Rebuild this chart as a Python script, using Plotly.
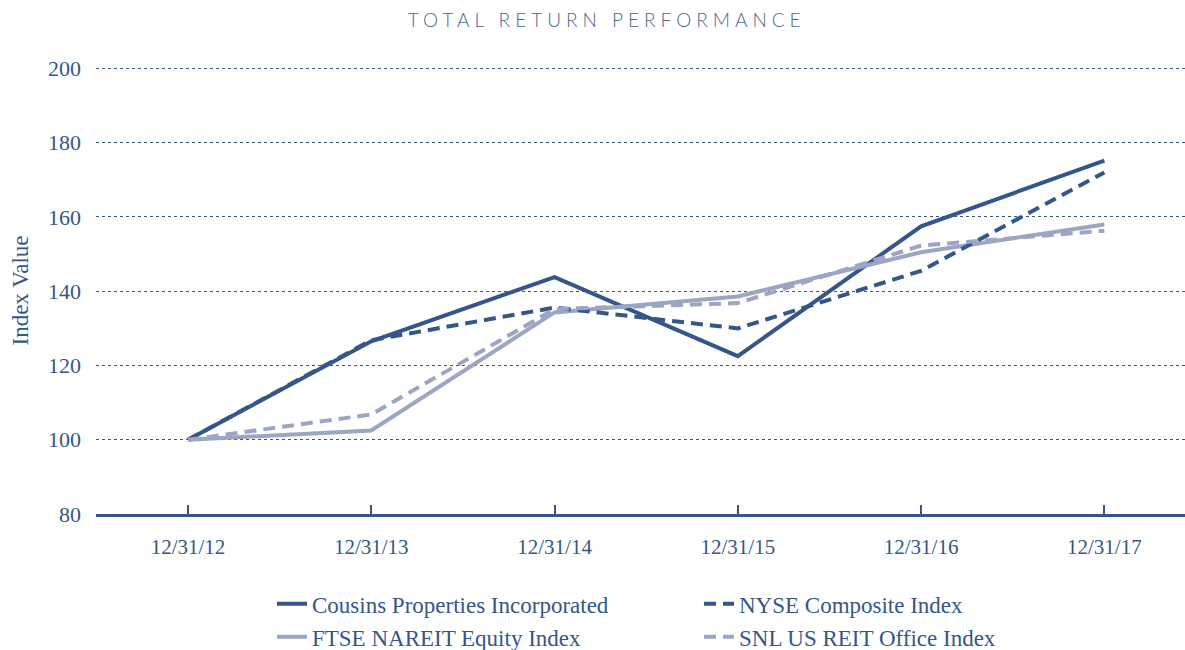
import plotly.graph_objects as go

dates = ["12/31/12", "12/31/13", "12/31/14", "12/31/15", "12/31/16", "12/31/17"]
cousins = [100, 126.5, 143.8, 122.5, 157.5, 175.2]
nyse = [100, 126.8, 135.6, 130.0, 145.5, 172.0]
ftse = [100, 102.5, 134.3, 138.6, 150.5, 158.0]
snl = [100, 106.8, 135.2, 136.8, 152.3, 156.3]

DARK = "#34568B"
LIGHT = "#9CA6C4"
SERIF = "Liberation Serif, Times New Roman, serif"

fig = go.Figure()
series = [
    ("Cousins Properties Incorporated", cousins, DARK, "solid", 1),
    ("FTSE NAREIT Equity Index", ftse, LIGHT, "solid", 3),
    ("NYSE Composite Index", nyse, DARK, "12px,7px", 2),
    ("SNL US REIT Office Index", snl, LIGHT, "12px,7px", 4),
]
for name, vals, col, dash, rank in series:
    fig.add_trace(go.Scatter(
        x=list(range(len(dates))), y=vals, name=name, mode="lines",
        line=dict(color=col, width=4, dash=dash), legendrank=rank,
    ))

fig.update_layout(
    width=1185, height=650,
    margin=dict(l=96, r=0, t=67, b=136, autoexpand=False),
    paper_bgcolor="white", plot_bgcolor="white",
    title=dict(text='<span style="letter-spacing:5px">TOTAL RETURN PERFORMANCE</span>',
               x=0.469, xref="paper", xanchor="center", y=0.968, yanchor="middle",
               font=dict(family="Lato, Open Sans, sans-serif", size=19, color="#4A6591", weight=300)),
    font=dict(family=SERIF, color=DARK),
    showlegend=True,
    legend=dict(orientation="h", x=0.1616, xanchor="left", y=-0.153, yanchor="top",
                entrywidth=382, entrywidthmode="pixels",
                font=dict(family=SERIF, size=23, color=DARK), traceorder="normal"),
    xaxis=dict(
        range=[-0.502, 5.44], tickmode="array", tickvals=list(range(len(dates))), ticktext=dates,
        showgrid=False, zeroline=False, showline=True, linecolor=DARK, linewidth=2.5,
        ticks="inside", ticklen=9, tickcolor=DARK, tickwidth=1.5,
        tickfont=dict(family=SERIF, size=21, color=DARK), ticklabelstandoff=12,
    ),
    yaxis=dict(
        range=[80, 200.4], tickvals=[80, 100, 120, 140, 160, 180, 200],
        showgrid=True, gridcolor=DARK, griddash="dot", gridwidth=1,
        zeroline=False, showline=False, ticks="",
        tickfont=dict(family=SERIF, size=22, color=DARK), ticklabelstandoff=14,
        title=dict(text="Index Value", font=dict(family=SERIF, size=23, color=DARK), standoff=12),
    ),
)
fig.write_html("out.html")
